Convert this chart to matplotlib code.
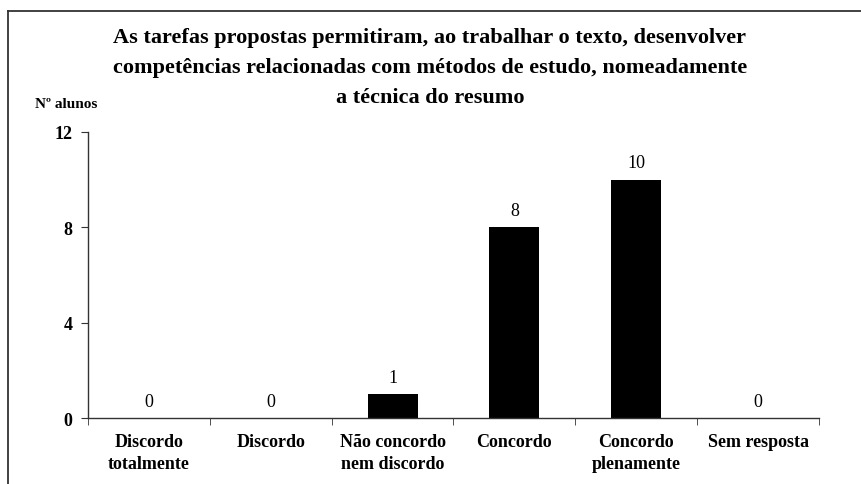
import matplotlib
matplotlib.use("Agg")
import matplotlib.pyplot as plt
from matplotlib.lines import Line2D

categories = ["Discordo\ntotalmente", "Discordo", "Não concordo\nnem discordo",
              "Concordo", "Concordo\nplenamente", "Sem resposta"]
values = [0, 0, 1, 8, 10, 0]
yticks = [0, 4, 8, 12]
title = ("As tarefas propostas permitiram, ao trabalhar o texto, desenvolver\n"
         "competências relacionadas com métodos de estudo, nomeadamente\n"
         "a técnica do resumo")
ylabel = "Nº alunos"

plt.rcParams['font.family'] = ['Liberation Serif', 'DejaVu Serif']

fig = plt.figure(figsize=(8.62, 4.85), dpi=100)
ax = fig.add_axes([88/862, 1-419/485, (819-88)/862, (419-133)/485])

x = list(range(len(categories)))
bars = ax.bar(x, values, width=0.41, color='black')
ax.set_xlim(-0.5, len(categories)-0.5)
ax.set_ylim(0, 12)
ax.set_yticks(yticks)
ax.set_yticklabels([str(t) for t in yticks], fontweight='bold', fontsize=13)
ax.set_xticks(x)
ax.set_xticklabels(categories, fontweight='bold', fontsize=13, linespacing=1.35)
ax.tick_params(axis='x', length=0, pad=11)
ax.set_xticks([i - 0.5 for i in range(len(categories)+1)], minor=True)
ax.tick_params(axis='x', which='minor', length=5, color='#333333')
ax.tick_params(axis='y', length=5, color='#333333', pad=6)
for s in ['top', 'right']:
    ax.spines[s].set_visible(False)
for s in ['left', 'bottom']:
    ax.spines[s].set_color('#333333')
    ax.spines[s].set_linewidth(1.0)

for xi, v in zip(x, values):
    ax.annotate(str(v), (xi, v), xytext=(0, 6), textcoords='offset points',
                ha='center', va='bottom', fontsize=13)

fig.text(430/862, 1-68/485, title, ha='center', va='center', fontsize=16,
         fontweight='bold', linespacing=1.68)
fig.text(35/862, 1-104/485, ylabel, ha='left', va='center', fontsize=11,
         fontweight='bold')

# frame (left and top)
fig.add_artist(Line2D([8/862, 8/862], [0, 1-12/485], transform=fig.transFigure,
                      color='#333333', lw=1.3))
fig.add_artist(Line2D([8/862, 1], [1-12/485, 1-12/485], transform=fig.transFigure,
                      color='#333333', lw=1.3))

fig.savefig("out.png", dpi=100)
